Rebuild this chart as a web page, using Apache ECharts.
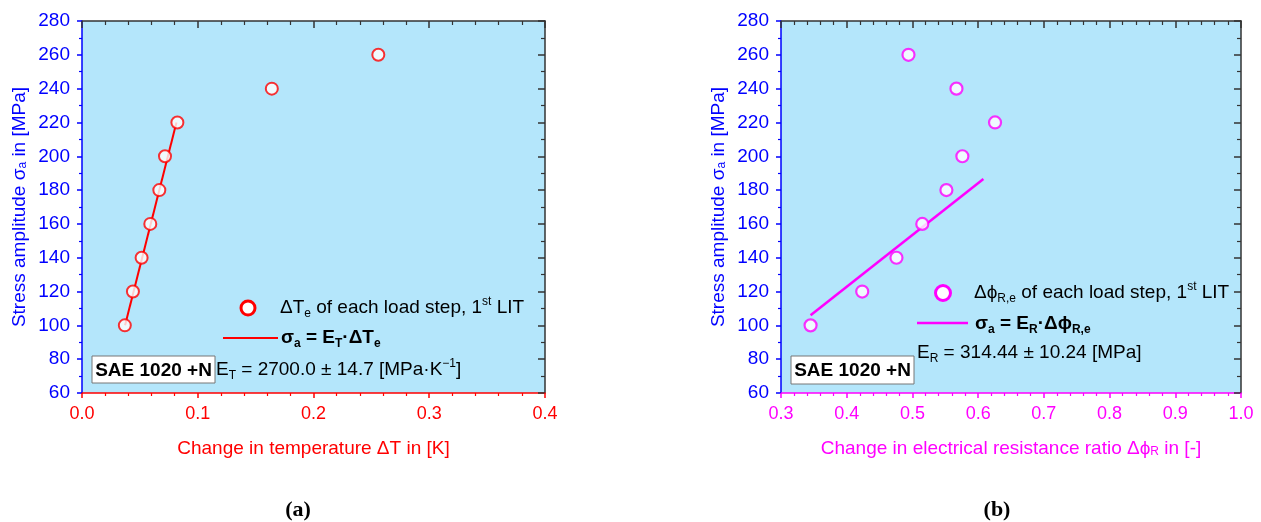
<!DOCTYPE html>
<html>
<head>
<meta charset="utf-8">
<script src="https://cdn.jsdelivr.net/npm/echarts@6/dist/echarts.min.js"></script>
<style>html,body{margin:0;padding:0;background:#fff}#c{width:1261px;height:522px}</style>
</head>
<body>
<div id="c"></div>
<script>
// ---- data ----
const stressLevels = [100, 120, 140, 160, 180, 200, 220, 240, 260];
const deltaT = [0.037, 0.044, 0.0515, 0.059, 0.0668, 0.0717, 0.0824, 0.164, 0.256];
const deltaPhi = [0.345, 0.4236, 0.4757, 0.515, 0.5517, 0.576, 0.6257, 0.567, 0.494];
const fitT_x = [0.0372, 0.0816];
const fitT_y = [100, 220];
const fitPhi_x = [0.345, 0.608];
const fitPhi_y = [106, 186.6];
const yTicks = {min: 60, max: 280, step: 20};
const xTicksA = {min: 0, max: 0.4, step: 0.1};
const xTicksB = {min: 0.3, max: 1.0, step: 0.1};

const FONT = 'Liberation Sans';
const FS = 19;
const RED = '#ff0000', MAG = '#ff00ff', BLUE = '#0000ff', DARK = '#333333';
const BG = '#b4e6fb';

function pairs(xs, ys) { return xs.map((x, i) => [x, ys[i]]); }

function xAxes(gi, t, color, name, rich) {
  return [{
    type: 'value', gridIndex: gi, position: 'bottom', min: t.min, max: t.max, interval: t.step,
    name: name, nameLocation: 'middle', nameGap: 46,
    nameTextStyle: {color: color, fontFamily: FONT, fontSize: FS, rich: rich},
    axisLine: {show: true, onZero: false, lineStyle: {color: color, width: 1.5}},
    axisTick: {show: true, inside: false, length: 5, lineStyle: {color: color, width: 1.5}},
    minorTick: {show: true, splitNumber: 5, length: 3, lineStyle: {color: color, width: 1.2}},
    axisLabel: {color: color, fontFamily: FONT, fontSize: 18, margin: 12, showMinLabel: true, showMaxLabel: true,
      formatter: v => v.toFixed(1)},
    splitLine: {show: false}
  }, {
    type: 'value', gridIndex: gi, position: 'top', min: t.min, max: t.max, interval: t.step,
    axisLine: {show: true, onZero: false, lineStyle: {color: DARK, width: 1.5}},
    axisTick: {show: true, inside: true, length: 7, lineStyle: {color: DARK, width: 1.5}},
    minorTick: {show: true, splitNumber: 5, length: 4, lineStyle: {color: DARK, width: 1.2}},
    axisLabel: {show: false}, splitLine: {show: false}
  }];
}
const yRich = {
  n: {color: BLUE, fontFamily: FONT, fontSize: FS},
  s: {color: BLUE, fontFamily: FONT, fontSize: 12, verticalAlign: 'bottom', lineHeight: 11}
};
function yAxes(gi) {
  return [{
    type: 'value', gridIndex: gi, position: 'left', min: yTicks.min, max: yTicks.max, interval: yTicks.step,
    name: '{n|Stress amplitude σ}{s|a}{n| in [MPa]}', nameLocation: 'middle', nameGap: 53, nameRotate: 90,
    nameTextStyle: {rich: yRich},
    axisLine: {show: true, onZero: false, lineStyle: {color: BLUE, width: 1.5}},
    axisTick: {show: true, inside: false, length: 5, lineStyle: {color: BLUE, width: 1.5}},
    minorTick: {show: true, splitNumber: 2, length: 3, lineStyle: {color: BLUE, width: 1.2}},
    axisLabel: {color: BLUE, fontFamily: FONT, fontSize: 19, margin: 12, showMinLabel: true, showMaxLabel: true},
    splitLine: {show: false}
  }, {
    type: 'value', gridIndex: gi, position: 'right', min: yTicks.min, max: yTicks.max, interval: yTicks.step,
    axisLine: {show: true, onZero: false, lineStyle: {color: DARK, width: 1.5}},
    axisTick: {show: true, inside: true, length: 7, lineStyle: {color: DARK, width: 1.5}},
    minorTick: {show: true, splitNumber: 2, length: 4, lineStyle: {color: DARK, width: 1.2}},
    axisLabel: {show: false}, splitLine: {show: false}
  }];
}

const xRichA = {
  n: {color: RED, fontFamily: FONT, fontSize: FS}
};
const xRichB = {
  n: {color: MAG, fontFamily: FONT, fontSize: FS},
  s: {color: MAG, fontFamily: FONT, fontSize: 12, verticalAlign: 'bottom', lineHeight: 11}
};

const chart = echarts.init(document.getElementById('c'), null, {renderer: 'canvas'});

function txtRich(color) {
  return {
    n: {color: color, fontFamily: FONT, fontSize: FS, lineHeight: 24},
    b: {color: color, fontFamily: FONT, fontSize: FS, fontWeight: 'bold', lineHeight: 24},
    s: {color: color, fontFamily: FONT, fontSize: 12, verticalAlign: 'bottom', lineHeight: 13},
    sb: {color: color, fontFamily: FONT, fontSize: 12, fontWeight: 'bold', verticalAlign: 'bottom', lineHeight: 13},
    p: {color: color, fontFamily: FONT, fontSize: 12, verticalAlign: 'top', lineHeight: 15}
  };
}
function rtext(x, y, text, color) {
  return {type: 'text', x: x, y: y, z: 100,
    style: {text: text, rich: txtRich(color), verticalAlign: 'middle', align: 'left'}};
}
function sampleBox(x, y, w, h) {
  return [{type: 'rect', z: 100, shape: {x: x, y: y, width: w, height: h},
      style: {fill: '#fff', stroke: '#777', lineWidth: 1}},
    {type: 'text', z: 101, x: x + w / 2, y: y + h / 2 + 1,
      style: {text: 'SAE 1020 +N', fill: '#000', font: 'bold 19px "Liberation Sans"', align: 'center', verticalAlign: 'middle'}}];
}

const option = {
  animation: false,
  grid: [
    {left: 82, top: 21, width: 463, height: 372, show: true, backgroundColor: BG, borderWidth: 0},
    {left: 781, top: 21, width: 460, height: 372, show: true, backgroundColor: BG, borderWidth: 0}
  ],
  xAxis: [
    ...xAxes(0, xTicksA, RED, '{n|Change in temperature ΔT in [K]}', xRichA),
    ...xAxes(1, xTicksB, MAG, '{n|Change in electrical resistance ratio Δϕ}{s|R}{n| in [-]}', xRichB)
  ],
  yAxis: [...yAxes(0), ...yAxes(1)],
  series: [
    {type: 'line', xAxisIndex: 0, yAxisIndex: 0, data: pairs(fitT_x, fitT_y), symbol: 'none',
      lineStyle: {color: RED, width: 2}, z: 2},
    {type: 'scatter', xAxisIndex: 0, yAxisIndex: 0, data: pairs(deltaT, stressLevels), symbol: 'circle', symbolSize: 12,
      itemStyle: {color: '#fff', borderColor: RED, borderWidth: 2}, z: 3},
    {type: 'line', xAxisIndex: 2, yAxisIndex: 2, data: pairs(fitPhi_x, fitPhi_y), symbol: 'none',
      lineStyle: {color: MAG, width: 2.5}, z: 2},
    {type: 'scatter', xAxisIndex: 2, yAxisIndex: 2, data: pairs(deltaPhi, stressLevels), symbol: 'circle', symbolSize: 12,
      itemStyle: {color: '#fff', borderColor: MAG, borderWidth: 2.2}, z: 3}
  ],
  graphic: [
    // left legend
    {type: 'circle', z: 100, shape: {cx: 248, cy: 308, r: 7}, style: {fill: '#fff', stroke: RED, lineWidth: 3}},
    rtext(280, 308, '{n|ΔT}{s|e}{n| of each load step, 1}{p|st}{n| LIT}', '#000'),
    {type: 'line', z: 100, shape: {x1: 223, y1: 338, x2: 278, y2: 338}, style: {stroke: RED, lineWidth: 2}},
    rtext(281, 338, '{b|σ}{sb|a}{b| = E}{sb|T}{b|·ΔT}{sb|e}', RED),
    rtext(216, 370, '{n|E}{s|T}{n| = 2700.0 ± 14.7 [MPa·K}{p|−1}{n|]}', '#000'),
    ...sampleBox(92, 356, 123, 27),
    // right legend
    {type: 'circle', z: 100, shape: {cx: 943, cy: 293, r: 7.5}, style: {fill: '#fff', stroke: MAG, lineWidth: 3}},
    rtext(974, 293, '{n|Δϕ}{s|R,e}{n| of each load step, 1}{p|st}{n| LIT}', '#000'),
    {type: 'line', z: 100, shape: {x1: 917, y1: 323, x2: 968, y2: 323}, style: {stroke: MAG, lineWidth: 2.5}},
    rtext(975, 324, '{b|σ}{sb|a}{b| = E}{sb|R}{b|·Δϕ}{sb|R,e}', MAG),
    rtext(917, 353, '{n|E}{s|R}{n| = 314.44 ± 10.24 [MPa]}', '#000'),
    ...sampleBox(791, 356, 123, 28),
    // panel labels
    {type: 'text', z: 100, x: 298, y: 510, style: {text: '(a)', fill: '#000', font: 'bold 22px "Liberation Serif"', align: 'center', verticalAlign: 'middle'}},
    {type: 'text', z: 100, x: 997, y: 510, style: {text: '(b)', fill: '#000', font: 'bold 22px "Liberation Serif"', align: 'center', verticalAlign: 'middle'}}
  ]
};
chart.setOption(option);
</script>
</body>
</html>
